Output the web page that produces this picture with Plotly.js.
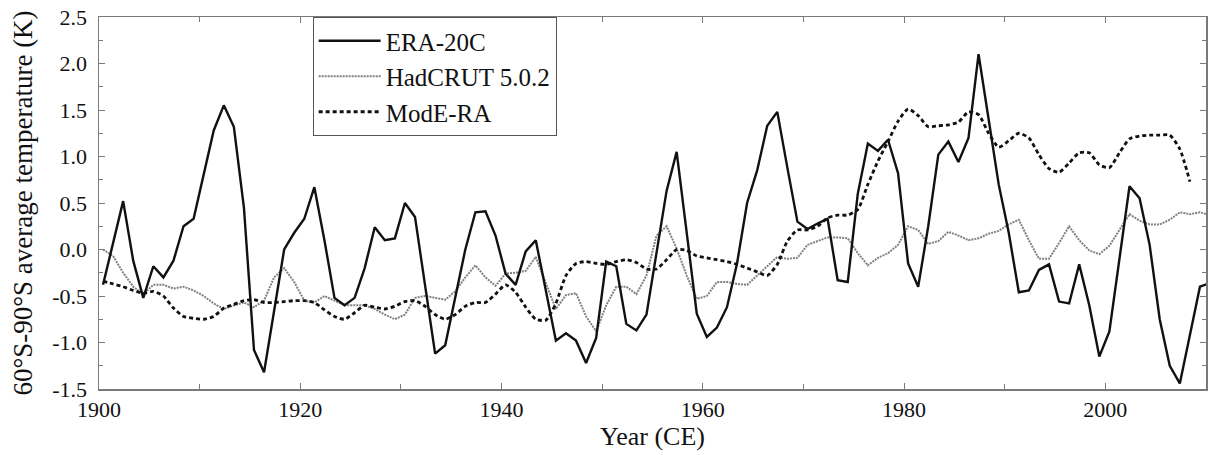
<!DOCTYPE html>
<html>
<head>
<meta charset="utf-8">
<script src="https://cdn.plot.ly/plotly-3.0.1.min.js"></script>
<style>
  html, body { margin: 0; padding: 0; background: #fff; }
  #chart { width: 1213px; height: 455px; }
</style>
</head>
<body>
<div id="chart"></div>
<script>
// Years (annual values; plotted at mid-year)
const years = [];
for (let y = 1900; y <= 2010; y++) years.push(y);

const era20c = [
  -0.38, 0.07, 0.52, -0.12, -0.52, -0.18, -0.30, -0.12, 0.25, 0.33,
  0.80, 1.28, 1.55, 1.32, 0.45, -1.08, -1.32, -0.65, 0.00, 0.18,
  0.33, 0.67, 0.10, -0.52, -0.60, -0.52, -0.20, 0.24, 0.10, 0.12,
  0.50, 0.35, -0.40, -1.12, -1.03, -0.50, 0.00, 0.40, 0.41, 0.15,
  -0.26, -0.38, -0.02, 0.10, -0.45, -0.98, -0.90, -0.98, -1.22, -0.95,
  -0.13, -0.18, -0.80, -0.87, -0.70, -0.05, 0.63, 1.05, 0.18, -0.69,
  -0.94, -0.84, -0.62, -0.15, 0.50, 0.85, 1.33, 1.48, 0.88, 0.30,
  0.22, 0.28, 0.33, -0.33, -0.35, 0.60, 1.14, 1.06, 1.18, 0.82,
  -0.15, -0.40, 0.25, 1.02, 1.16, 0.94, 1.20, 2.10, 1.40, 0.70,
  0.18, -0.46, -0.44, -0.22, -0.16, -0.56, -0.58, -0.16, -0.60, -1.15,
  -0.88, -0.10, 0.68, 0.55, 0.05, -0.75, -1.25, -1.44, -0.90, -0.40,
  -0.36
];

const hadcrut = [
  0.00, -0.07, -0.25, -0.40, -0.48, -0.38, -0.38, -0.42, -0.40, -0.44,
  -0.50, -0.58, -0.64, -0.60, -0.57, -0.62, -0.55, -0.30, -0.20, -0.35,
  -0.55, -0.57, -0.50, -0.55, -0.60, -0.60, -0.60, -0.64, -0.70, -0.75,
  -0.70, -0.52, -0.50, -0.52, -0.54, -0.45, -0.30, -0.17, -0.30, -0.39,
  -0.26, -0.25, -0.23, -0.08, -0.35, -0.64, -0.49, -0.47, -0.72, -0.88,
  -0.60, -0.40, -0.40, -0.48, -0.28, 0.15, 0.25, 0.01, -0.28, -0.53,
  -0.50, -0.35, -0.35, -0.37, -0.38, -0.28, -0.18, -0.08, -0.10, -0.09,
  0.05, 0.09, 0.13, 0.13, 0.12, -0.04, -0.17, -0.09, -0.04, 0.05,
  0.25, 0.21, 0.06, 0.09, 0.19, 0.15, 0.10, 0.12, 0.17, 0.20,
  0.27, 0.32, 0.10, -0.10, -0.10, 0.07, 0.25, 0.10, -0.01, -0.05,
  0.04, 0.21, 0.38, 0.31, 0.27, 0.27, 0.32, 0.40, 0.38, 0.40,
  0.37
];

const modera = [
  -0.34, -0.37, -0.40, -0.44, -0.47, -0.45, -0.50, -0.63, -0.72, -0.74,
  -0.75, -0.72, -0.63, -0.59, -0.55, -0.54, -0.57, -0.57, -0.56, -0.55,
  -0.55, -0.57, -0.65, -0.72, -0.75, -0.68, -0.60, -0.62, -0.64, -0.61,
  -0.56, -0.55, -0.61, -0.70, -0.75, -0.70, -0.61, -0.57, -0.57, -0.48,
  -0.38, -0.46, -0.62, -0.75, -0.76, -0.58, -0.28, -0.15, -0.13, -0.15,
  -0.16, -0.13, -0.11, -0.14, -0.21, -0.21, -0.11, 0.00, -0.01, -0.07,
  -0.09, -0.11, -0.13, -0.16, -0.20, -0.24, -0.28, -0.16, 0.09, 0.21,
  0.21, 0.25, 0.34, 0.37, 0.37, 0.43, 0.70, 0.95, 1.16, 1.38,
  1.51, 1.44, 1.32, 1.33, 1.34, 1.37, 1.48, 1.45, 1.25, 1.10,
  1.17, 1.25, 1.20, 1.02, 0.87, 0.83, 0.93, 1.04, 1.04, 0.91,
  0.88, 1.04, 1.19, 1.22, 1.23, 1.23, 1.23, 1.08, 0.73, null,
  null
];

const seriesNames = ['ERA-20C', 'HadCRUT 5.0.2', 'ModE-RA'];
const xTickVals = [1900, 1920, 1940, 1960, 1980, 2000];
const xTickText = ['1900', '1920', '1940', '1960', '1980', '2000'];
const yTickVals = [-1.5, -1.0, -0.5, 0.0, 0.5, 1.0, 1.5, 2.0, 2.5];
const yTickText = ['-1.5', '-1.0', '-0.5', '0.0', '0.5', '1.0', '1.5', '2.0', '2.5'];

const xMid = years.map(y => y + 0.4);
const serif = 'Liberation Serif, Times New Roman, serif';

const traces = [
  {
    x: xMid, y: hadcrut, name: seriesNames[1], type: 'scatter', mode: 'lines',
    line: { color: '#808080', width: 2, dash: '2px,1px' }, legendrank: 2
  },
  {
    x: xMid, y: modera, name: seriesNames[2], type: 'scatter', mode: 'lines',
    line: { color: '#111', width: 2.8, dash: '4px,3px', shape: 'spline', smoothing: 0.6 },
    connectgaps: false, legendrank: 3
  },
  {
    x: xMid, y: era20c, name: seriesNames[0], type: 'scatter', mode: 'lines',
    line: { color: '#111', width: 2.4 }, legendrank: 1
  }
];

const axisCommon = {
  showgrid: false, zeroline: false,
  showline: true, linecolor: '#7a7a7a', linewidth: 1.5, mirror: 'ticks',
  ticks: 'inside', ticklen: 6, tickwidth: 1, tickcolor: '#7a7a7a',
  tickfont: { family: serif, size: 22, color: '#111' }
};

const layout = {
  width: 1213, height: 455,
  margin: { l: 99, r: 7, t: 17, b: 66 },
  paper_bgcolor: '#fff', plot_bgcolor: '#fff',
  showlegend: true,
  legend: {
    x: 0.193, y: 1, xanchor: 'left', yanchor: 'top',
    bgcolor: '#fff', bordercolor: '#555', borderwidth: 1,
    font: { family: serif, size: 25, color: '#111' },
    itemwidth: 62, tracegroupgap: 0
  },
  xaxis: Object.assign({}, axisCommon, {
    range: [1900, 2010],
    tickmode: 'array', tickvals: xTickVals, ticktext: xTickText,
    minor: { tickmode: 'linear', tick0: 1900, dtick: 10, ticks: 'inside', ticklen: 5, tickcolor: '#7a7a7a' },
    title: { text: 'Year (CE)', font: { family: serif, size: 26, color: '#111' }, standoff: 4 }
  }),
  yaxis: Object.assign({}, axisCommon, {
    range: [-1.5, 2.5],
    tickmode: 'array', tickvals: yTickVals, ticktext: yTickText,
    minor: { tickmode: 'linear', tick0: 0, dtick: 0.25, ticks: 'inside', ticklen: 4, tickcolor: '#7a7a7a' },
    ticklabelstandoff: 6,
    title: { text: '60°S-90°S average temperature (K)', font: { family: serif, size: 27, color: '#111' }, standoff: 12 }
  })
};

Plotly.newPlot('chart', traces, layout, { displayModeBar: false, staticPlot: true });
</script>
</body>
</html>
